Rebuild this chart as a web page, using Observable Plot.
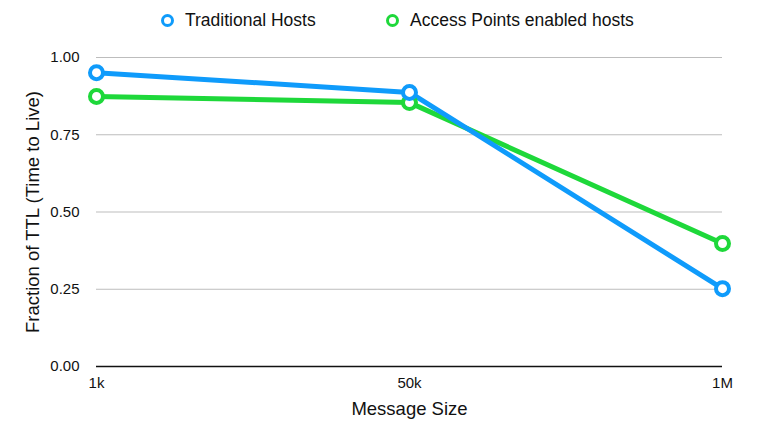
<!DOCTYPE html>
<html>
<head>
<meta charset="utf-8">
<script src="https://cdn.jsdelivr.net/npm/d3@7"></script>
<script src="https://cdn.jsdelivr.net/npm/@observablehq/plot@0.6"></script>
<style>
  body { margin: 0; background: #fff; font-family: "Liberation Sans", Arial, sans-serif; }
  #wrap { position: relative; width: 769px; height: 431px; }
  #legend { position: absolute; top: 0; left: 0; width: 769px; height: 40px; font-size: 17.5px; color: #111; }
  .item { position: absolute; top: 10px; display: flex; align-items: center; height: 20px; }
  .sw { width: 7px; height: 7px; border-radius: 50%; border: 3.5px solid; background: #fff; margin-right: 11px; }
</style>
</head>
<body>
<div id="wrap">
  <div id="chart"></div>
  <div id="legend"></div>
</div>
<script>
const sizes = ["1k", "50k", "1M"];
const seriesNames = ["Traditional Hosts", "Access Points enabled hosts"];
const traditional = [0.951, 0.887, 0.252];
const accessPoints = [0.874, 0.854, 0.398];
const yTicks = [0, 0.25, 0.5, 0.75, 1];
const colors = ["#0f9bfb", "#1ed83a"];

const rows = [];
sizes.forEach((s, i) => {
  rows.push({size: s, value: accessPoints[i], series: seriesNames[1]});
});
sizes.forEach((s, i) => {
  rows.push({size: s, value: traditional[i], series: seriesNames[0]});
});
const colorScale = {domain: seriesNames, range: colors};

const chart = Plot.plot({
  width: 769,
  height: 431,
  marginTop: 57,
  marginBottom: 65,
  marginLeft: 96,
  marginRight: 47,
  style: {fontFamily: "Liberation Sans, Arial, sans-serif", fontSize: "15px", color: "#111", overflow: "visible"},
  x: {type: "point", domain: sizes, padding: 0},
  y: {domain: [0, 1]},
  color: colorScale,
  marks: [
    Plot.ruleY(yTicks.filter(d => d > 0), {stroke: "#bdbdbd", strokeWidth: 1}),
    Plot.ruleY([0], {stroke: "#111", strokeWidth: 1.5}),
    Plot.axisY({ticks: yTicks, tickFormat: d3.format(".2f"), tickSize: 0, tickPadding: 17, label: null, fontSize: 15}),
    Plot.axisX({tickSize: 0, tickPadding: 11, label: null, fontSize: 15}),
    Plot.text(["Fraction of TTL (Time to Live)"], {frameAnchor: "left", textAnchor: "middle", lineAnchor: "middle", rotate: -90, dx: -63, fontSize: 18.5, fill: "#111"}),
    Plot.text(["Message Size"], {frameAnchor: "bottom", textAnchor: "middle", lineAnchor: "middle", dy: 43, fontSize: 18.5, fill: "#111"}),
    Plot.line(rows, {x: "size", y: "value", z: "series", stroke: "series", strokeWidth: 5}),
    Plot.dot(rows, {x: "size", y: "value", stroke: "series", fill: "white", r: 6.5, strokeWidth: 4})
  ]
});
document.getElementById("chart").appendChild(chart);

const legend = document.getElementById("legend");
const lefts = [161, 386];
seriesNames.forEach((name, i) => {
  const item = document.createElement("div");
  item.className = "item";
  item.style.left = lefts[i] + "px";
  const sw = document.createElement("span");
  sw.className = "sw";
  sw.style.borderColor = colors[i];
  item.appendChild(sw);
  item.appendChild(document.createTextNode(name));
  legend.appendChild(item);
});
</script>
</body>
</html>
